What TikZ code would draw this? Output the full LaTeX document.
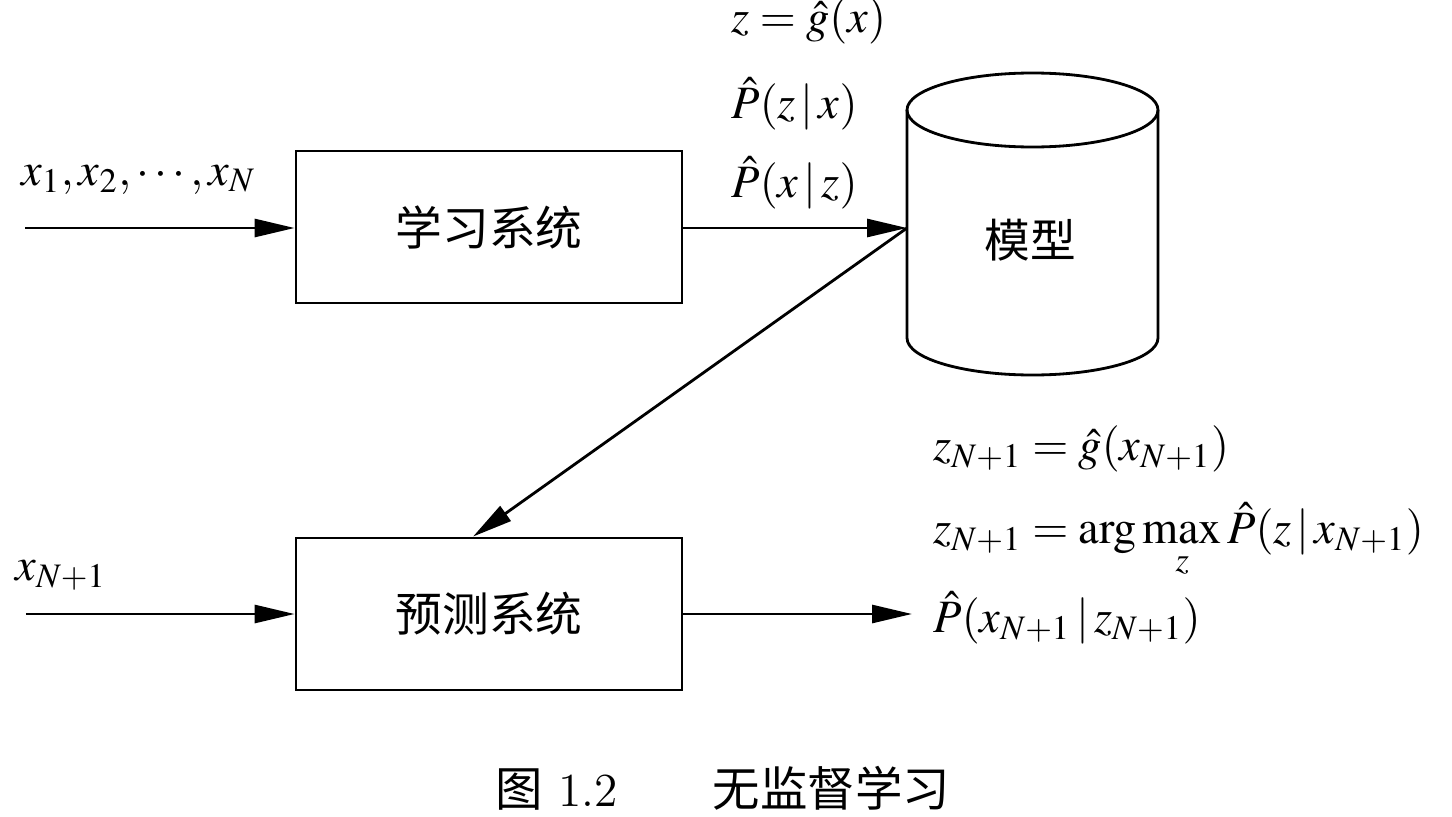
\documentclass[tikz,border=0pt]{standalone}
\usepackage[no-math]{fontspec}
\usepackage{mathptmx}
\newfontfamily\cjk{Noto Sans CJK SC}
\usetikzlibrary{arrows.meta}

\begin{document}
\begin{tikzpicture}[
		line width=0.8pt,
		sysbox/.style={draw, minimum width=3.86cm, minimum height=1.52cm, font=\cjk\fontsize{13.3}{15}\selectfont},
		flow/.style={-{Triangle[length=4mm, width=1.8mm]}},
		eqlabel/.style={inner sep=0pt, font=\fontsize{13.2}{16}\selectfont}
	]
		%%%%% START %%%%%
		\useasboundingbox (0, 0) rectangle (14.52, 8.16);
		
		% systems
		\node[sysbox] (learn) at (4.89, 5.89) {学习系统};
		\node[sysbox] (pred) at (4.89, 2.02) {预测系统};
		
		% model cylinder
		\draw (9.07, 7.06) -- (9.07, 4.78) arc (180:360:1.255 and 0.37) -- (11.58, 7.06);
		\draw (10.325, 7.06) ellipse (1.255 and 0.37);
		\node[font=\cjk\fontsize{13}{15}\selectfont] (model) at (10.30, 5.76) {模型};
		\coordinate (modelin) at (9.07, 5.88);
		
		% inputs and outputs
		\coordinate (trainin) at (0.25, 5.88);
		\coordinate (testin) at (0.26, 2.02);
		\coordinate (predout) at (9.12, 2.02);
		
		\draw[flow] (trainin) -- (learn.west |- trainin);
		\draw[flow] (learn.east |- modelin) -- (modelin);
		\draw[flow] (modelin) -- ([xshift=-0.16cm]pred.north);
		\draw[flow] (testin) -- (pred.west |- testin);
		\draw[flow] (pred.east |- predout) -- (predout);
		
		% labels
		\node[eqlabel, anchor=base west] (trainlab) at (0.20, 6.31) {$x_1, x_2, \cdots, x_N$};
		\node[eqlabel, anchor=base west] (testlab) at (0.14, 2.36) {$x_{N+1}$};
		
		\node[eqlabel, anchor=base west] (glab) at (7.30, 7.83) {$z = \hat{g}(x)$};
		\node[eqlabel, anchor=base west] (pzx) at (7.30, 6.98) {$\hat{P}(z\,|\,x)$};
		\node[eqlabel, anchor=base west] (pxz) at (7.30, 6.19) {$\hat{P}(x\,|\,z)$};
		
		\node[eqlabel, anchor=base west] (gnew) at (9.32, 3.56) {$z_{N+1} = \hat{g}(x_{N+1})$};
		\node[eqlabel, anchor=base west] (argmax) at (9.32, 2.73) {$\displaystyle z_{N+1} = \arg\max_{z} \hat{P}(z\,|\,x_{N+1})$};
		\node[eqlabel, anchor=base west] (pxnew) at (9.32, 1.84) {$\hat{P}(x_{N+1}\,|\,z_{N+1})$};
		
		% caption
		\node[font=\fontsize{13.5}{16}\selectfont] (caption) at (7.23, 0.28) {{\cjk 图} 1.2\qquad{\cjk 无监督学习}};
		%%%%% END %%%%%
	\end{tikzpicture}
\end{document}
